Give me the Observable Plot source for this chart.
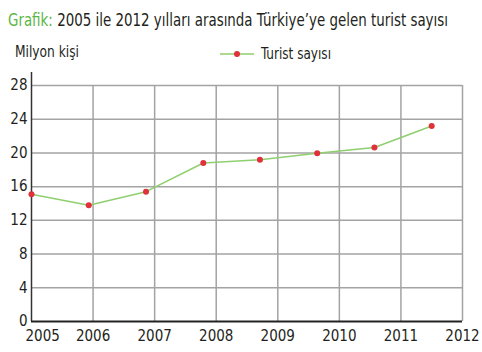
<!DOCTYPE html>
<html>
<head>
<meta charset="utf-8">
<script src="https://cdn.jsdelivr.net/npm/d3@7"></script>
<script src="https://cdn.jsdelivr.net/npm/@observablehq/plot@0.6"></script>
<style>
  html, body { margin: 0; padding: 0; background: #fff; }
  #wrap { position: relative; width: 482px; height: 352px; overflow: hidden;
          font-family: "Liberation Sans Narrow", "DejaVu Sans Condensed", "Roboto", sans-serif; color: #231f20; }
  #wrap > svg { position: absolute; left: 0; top: 0; }
  .title { position: absolute; left: 8px; top: 9px; font-size: 18px; white-space: nowrap; transform-origin: 0 0; }
  .title .g { color: #5cb646; }
  .ylab { position: absolute; left: 15px; top: 42px; font-size: 16px; white-space: nowrap; transform-origin: 0 0; }
  .legend { position: absolute; left: 220px; top: 44px; font-size: 16px; white-space: nowrap; display: flex; align-items: center; }
  .legend svg { margin-right: 7px; }
  .legend span { display: inline-block; transform-origin: 0 50%; }
</style>
</head>
<body>
<div id="wrap">
  <div class="title" id="title"><span class="g">Grafik:</span> 2005 ile 2012 yılları arasında Türkiye’ye gelen turist sayısı</div>
  <div class="ylab" id="ylab">Milyon kişi</div>
  <div class="legend"><svg width="34" height="8"><line x1="0" y1="4" x2="34" y2="4" stroke="#8fcf6f" stroke-width="1.5"/><circle cx="17" cy="4" r="3" fill="#e0303a"/></svg><span id="legtext">Turist sayısı</span></div>
</div>
<script>
// Data
const positions = [2005, 2005.93, 2006.86, 2007.79, 2008.71, 2009.64, 2010.57, 2011.5];
const tourists = [15.1, 13.8, 15.4, 18.8, 19.2, 19.95, 20.65, 23.2];
const yearTicks = [2005, 2006, 2007, 2008, 2009, 2010, 2011, 2012];
const valueTicks = [0, 4, 8, 12, 16, 20, 24, 28];

const data = positions.map((x, i) => ({x, y: tourists[i]}));
const font = '"Liberation Sans Narrow", "DejaVu Sans Condensed", "Roboto", sans-serif';

const chart = Plot.plot({
  width: 482,
  height: 352,
  marginTop: 85,
  marginBottom: 31,
  marginLeft: 31,
  marginRight: 20,
  style: {fontFamily: font, fontSize: "15px", color: "#231f20", background: "transparent"},
  x: {domain: [2005, 2012]},
  y: {domain: [0, 28]},
  marks: [
    Plot.ruleY(valueTicks.slice(1), {stroke: "#a3a3a3", strokeWidth: 1.5}),
    Plot.ruleX(yearTicks.slice(1), {stroke: "#a3a3a3", strokeWidth: 1.5}),
    Plot.ruleX([2005], {stroke: "#333", strokeWidth: 1.5, insetTop: -13}),
    Plot.ruleY([0], {stroke: "#222", strokeWidth: 2}),
    Plot.axisY({ticks: valueTicks, tickSize: 0, tickPadding: 4, label: null, fontSize: 15}),
    Plot.axisX({ticks: yearTicks.slice(1), tickFormat: d => String(d), tickSize: 0, tickPadding: 9, label: null, fontSize: 15}),
    Plot.axisX({ticks: yearTicks.slice(0, 1), tickFormat: d => String(d), tickSize: 0, tickPadding: 9, label: null, fontSize: 15, textAnchor: "start", dx: -6}),
    Plot.line(data, {x: "x", y: "y", stroke: "#8fcf6f", strokeWidth: 1.5}),
    Plot.dot(data, {x: "x", y: "y", r: 3, fill: "#e0303a", stroke: "none"})
  ]
});
document.getElementById("wrap").prepend(chart);

// squeeze texts horizontally to the widths seen in the reference
function fit(id, target) {
  const el = document.getElementById(id);
  const w = el.getBoundingClientRect().width;
  if (w > 0) el.style.transform = `scaleX(${target / w})`;
}
fit("title", 440);
fit("ylab", 64);
fit("legtext", 70);
</script>
</body>
</html>
